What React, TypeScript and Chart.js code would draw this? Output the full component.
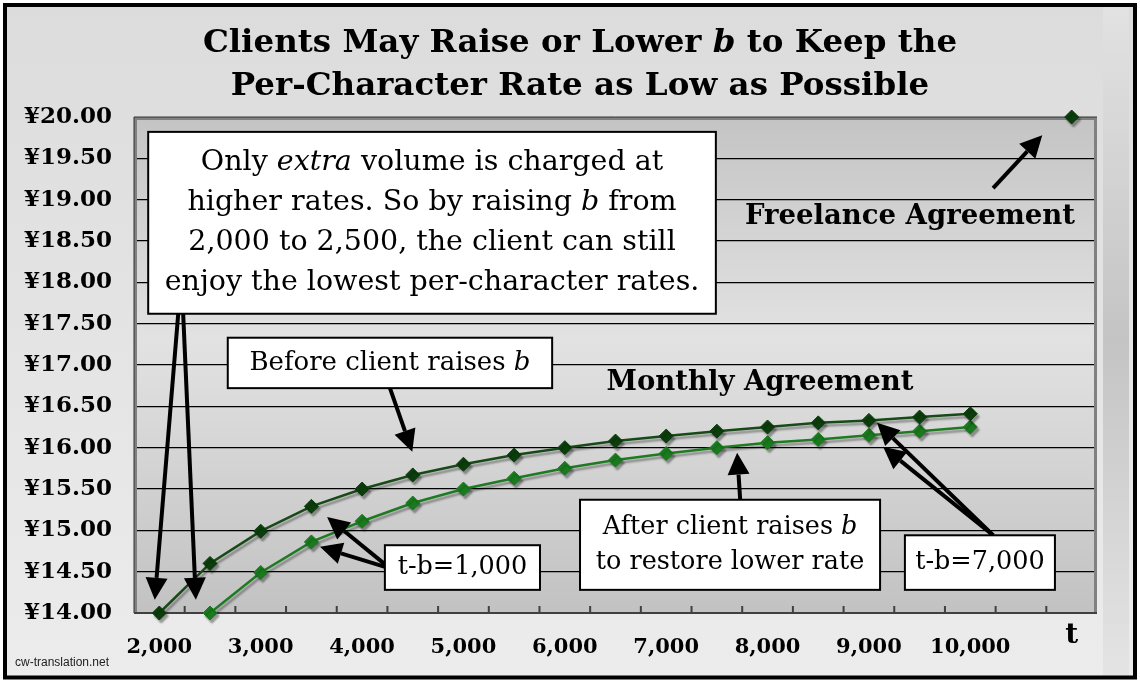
import { useEffect, useRef } from "react";
import { Chart, registerables } from "chart.js";

Chart.register(...registerables);

// volume t (characters), one category every 500
const categories = [
  2000, 2500, 3000, 3500, 4000, 4500, 5000, 5500, 6000, 6500, 7000, 7500, 8000, 8500, 9000, 9500, 10000, 10500, 11000,
];
const xTickLabels = [
  "2,000", "", "3,000", "", "4,000", "", "5,000", "", "6,000", "", "7,000", "", "8,000", "", "9,000", "", "10,000", "", "t",
];

// per-character rate (yen)
const beforeRaise = [
  14.0, 14.6, 14.99, 15.29, 15.5, 15.67, 15.8, 15.91, 16.0, 16.08, 16.14, 16.2, 16.25, 16.3, 16.33, 16.37, 16.41, null, null,
];
const afterRaise = [
  null, 14.0, 14.49, 14.86, 15.11, 15.33, 15.5, 15.63, 15.75, 15.85, 15.93, 16.0, 16.06, 16.1, 16.15, 16.2, 16.25, null, null,
];
const freelance = [
  null, null, null, null, null, null, null, null, null, null, null, null, null, null, null, null, null, null, 20.0,
];

const yMin = 14;
const yMax = 20;
const yStep = 0.5;

const SERIF = '"DejaVu Serif", "Liberation Serif", serif';

type Part = [string, boolean]; // text, italic

// annotation layer, positioned in data space (category index, yen)
const boxes: { x1: number; x2: number; y1: number; y2: number; size: number; lh: number; lines: Part[][] }[] = [
  {
    x1: -0.22, x2: 10.98, y1: 19.82, y2: 17.62, size: 28.5, lh: 40,
    lines: [
      [["Only ", false], ["extra", true], [" volume is charged at", false]],
      [["higher rates. So by raising ", false], ["b", true], [" from", false]],
      [["2,000 to 2,500, the client can still", false]],
      [["enjoy the lowest per-character rates.", false]],
    ],
  },
  {
    x1: 1.35, x2: 7.75, y1: 17.33, y2: 16.72, size: 26, lh: 36,
    lines: [[["Before client raises ", false], ["b", true]]],
  },
  {
    x1: 8.3, x2: 14.22, y1: 15.37, y2: 14.28, size: 25.5, lh: 35,
    lines: [
      [["After client raises ", false], ["b", true]],
      [["to restore lower rate", false]],
    ],
  },
  {
    x1: 4.45, x2: 7.51, y1: 14.82, y2: 14.28, size: 25.5, lh: 36,
    lines: [[["t-b=1,000", false]]],
  },
  {
    x1: 14.71, x2: 17.67, y1: 14.94, y2: 14.28, size: 25.5, lh: 36,
    lines: [[["t-b=7,000", false]]],
  },
];

const arrows: { from: [number, number]; to: [number, number] }[] = [
  { from: [0.41, 17.9], to: [-0.09, 14.16] },
  { from: [0.45, 17.9], to: [0.72, 14.16] },
  { from: [4.55, 16.72], to: [4.99, 15.95] },
  { from: [16.45, 19.14], to: [17.42, 19.78] },
  { from: [11.46, 15.37], to: [11.4, 15.94] },
  { from: [4.55, 14.54], to: [3.31, 15.16] },
  { from: [4.55, 14.54], to: [3.17, 14.8] },
  { from: [16.45, 14.94], to: [14.16, 16.3] },
  { from: [16.45, 14.94], to: [14.28, 16.01] },
];

const plainLabels: { text: string; x: number; y: number }[] = [
  { text: "Monthly Agreement", x: 11.85, y: 16.78 },
  { text: "Freelance Agreement", x: 14.81, y: 18.79 },
];

function drawRich(ctx: CanvasRenderingContext2D, parts: Part[], cx: number, cy: number, size: number, bold: boolean) {
  const font = (it: boolean) => `${it ? "italic " : ""}${bold ? "bold " : ""}${size}px ${SERIF}`;
  const widths = parts.map(([t, it]) => {
    ctx.font = font(it);
    return ctx.measureText(t).width;
  });
  const total = widths.reduce((a, b) => a + b, 0);
  let x = cx - total / 2;
  ctx.textAlign = "left";
  ctx.textBaseline = "middle";
  ctx.fillStyle = "#000";
  parts.forEach(([t, it], i) => {
    ctx.font = font(it);
    ctx.fillText(t, x, cy);
    x += widths[i];
  });
}

function drawArrow(ctx: CanvasRenderingContext2D, x1: number, y1: number, x2: number, y2: number) {
  const a = Math.atan2(y2 - y1, x2 - x1);
  const head = 22;
  const half = 11;
  const bx = x2 - head * Math.cos(a);
  const by = y2 - head * Math.sin(a);
  ctx.strokeStyle = "#000";
  ctx.fillStyle = "#000";
  ctx.lineWidth = 4;
  ctx.beginPath();
  ctx.moveTo(x1, y1);
  ctx.lineTo(bx, by);
  ctx.stroke();
  ctx.beginPath();
  ctx.moveTo(x2, y2);
  ctx.lineTo(bx + half * Math.sin(a), by - half * Math.cos(a));
  ctx.lineTo(bx - half * Math.sin(a), by + half * Math.cos(a));
  ctx.closePath();
  ctx.fill();
}

const decorPlugin = {
  id: "decor",
  beforeDraw(chart: any) {
    const { ctx, width, height, chartArea: ca } = chart;
    ctx.save();
    ctx.fillStyle = "#fff";
    ctx.fillRect(0, 0, width, height);
    const bg = ctx.createLinearGradient(0, 5, 0, height - 5);
    bg.addColorStop(0, "#dcdcdc");
    bg.addColorStop(1, "#ececec");
    ctx.fillStyle = bg;
    ctx.fillRect(5, 5, width - 10, height - 10);
    // shaded strip right of the plot
    const side = ctx.createLinearGradient(0, 5, 0, height - 5);
    side.addColorStop(0, "#e2e2e2");
    side.addColorStop(0.5, "#c4c4c4");
    side.addColorStop(1, "#e4e4e4");
    ctx.fillStyle = side;
    ctx.fillRect(ca.right + 6, 5, width - 11 - ca.right - 6, height - 10);
    // plot background
    const pg = ctx.createLinearGradient(0, ca.top, 0, ca.bottom);
    pg.addColorStop(0, "#c4c4c4");
    pg.addColorStop(0.45, "#e2e2e2");
    pg.addColorStop(1, "#c2c2c2");
    ctx.fillStyle = pg;
    ctx.fillRect(ca.left, ca.top, ca.right - ca.left, ca.bottom - ca.top);
    ctx.restore();
  },
  beforeDatasetsDraw(chart: any) {
    const { ctx, chartArea: ca } = chart;
    const xs = chart.scales.x;
    ctx.save();
    ctx.strokeStyle = "#808080";
    ctx.lineWidth = 3;
    ctx.beginPath();
    ctx.moveTo(ca.left + 1.5, ca.bottom);
    ctx.lineTo(ca.left + 1.5, ca.top + 1.5);
    ctx.lineTo(ca.right - 1.5, ca.top + 1.5);
    ctx.lineTo(ca.right - 1.5, ca.bottom);
    ctx.stroke();
    ctx.strokeStyle = "#333";
    ctx.lineWidth = 1;
    ctx.beginPath();
    ctx.moveTo(ca.left, ca.top);
    ctx.lineTo(ca.right, ca.top);
    ctx.moveTo(ca.left, ca.top);
    ctx.lineTo(ca.left, ca.bottom);
    ctx.stroke();
    // axis line with inside ticks at category boundaries
    ctx.strokeStyle = "#404040";
    ctx.lineWidth = 2;
    ctx.beginPath();
    ctx.moveTo(ca.left, ca.bottom);
    ctx.lineTo(ca.right, ca.bottom);
    for (let i = 0; i < categories.length - 1; i++) {
      const bx = xs.getPixelForValue(i + 0.5);
      ctx.moveTo(bx, ca.bottom);
      ctx.lineTo(bx, ca.bottom - 7);
    }
    ctx.stroke();
    ctx.restore();
  },
  beforeDatasetDraw(chart: any) {
    const ctx = chart.ctx;
    ctx.save();
    ctx.shadowColor = "rgba(0,0,0,0.35)";
    ctx.shadowOffsetX = 2;
    ctx.shadowOffsetY = 3;
    ctx.shadowBlur = 2;
  },
  afterDatasetDraw(chart: any) {
    chart.ctx.restore();
  },
  afterDraw(chart: any) {
    const { ctx, width, height } = chart;
    const xs = chart.scales.x;
    const ys = chart.scales.y;
    const P = (i: number, v: number) => [xs.getPixelForValue(i), ys.getPixelForValue(v)];
    ctx.save();

    // title
    drawRich(ctx, [["Clients May Raise or Lower ", false], ["b", true], [" to Keep the", false]], 580, 44, 32.5, true);
    drawRich(ctx, [["Per-Character Rate as Low as Possible", false]], 580, 87, 32.5, true);

    // x axis name at the last category
    ctx.font = `bold 28px ${SERIF}`;
    ctx.textAlign = "center";
    ctx.textBaseline = "middle";
    ctx.fillStyle = "#000";
    ctx.fillText(xTickLabels[xTickLabels.length - 1], xs.getPixelForValue(categories.length - 1), 636);

    arrows.forEach((a) => {
      const [x1, y1] = P(a.from[0], a.from[1]);
      const [x2, y2] = P(a.to[0], a.to[1]);
      drawArrow(ctx, x1, y1, x2, y2);
    });

    boxes.forEach((b) => {
      const [x1, y1] = P(b.x1, b.y1);
      const [x2, y2] = P(b.x2, b.y2);
      ctx.fillStyle = "#fff";
      ctx.fillRect(x1, y1, x2 - x1, y2 - y1);
      ctx.strokeStyle = "#000";
      ctx.lineWidth = 2;
      ctx.strokeRect(x1, y1, x2 - x1, y2 - y1);
      const cx = (x1 + x2) / 2;
      const cy = (y1 + y2) / 2;
      const n = b.lines.length;
      b.lines.forEach((ln, k) => {
        drawRich(ctx, ln, cx, cy + (k - (n - 1) / 2) * b.lh, b.size, false);
      });
    });

    plainLabels.forEach((l) => {
      const [x, y] = P(l.x, l.y);
      drawRich(ctx, [[l.text, false]], x, y, 27.5, true);
    });

    // watermark
    ctx.font = '12px "Liberation Sans", Arial, sans-serif';
    ctx.textAlign = "left";
    ctx.textBaseline = "middle";
    ctx.fillStyle = "#222";
    ctx.fillText("cw-translation.net", 15, 663);

    // frame
    ctx.strokeStyle = "#000";
    ctx.lineWidth = 4;
    ctx.strokeRect(5, 5, width - 10, height - 8.5);
    ctx.restore();
  },
};

export default function App() {
  const canvasRef = useRef<HTMLCanvasElement>(null);
  const chartRef = useRef<Chart | null>(null);

  useEffect(() => {
    document.body.style.margin = "0";
    if (!canvasRef.current) return;
    if (chartRef.current) chartRef.current.destroy();

    const diamond = (color: string) => ({
      pointStyle: "rectRot" as const,
      pointRadius: 7,
      pointHoverRadius: 7,
      pointBackgroundColor: color,
      pointBorderColor: color,
      pointBorderWidth: 1,
    });

    chartRef.current = new Chart(canvasRef.current, {
      type: "line",
      data: {
        labels: categories,
        datasets: [
          {
            label: "Before client raises b",
            data: beforeRaise,
            borderColor: "#174a17",
            borderWidth: 2.5,
            tension: 0,
            clip: false,
            ...diamond("#0c3d0c"),
          },
          {
            label: "After client raises b",
            data: afterRaise,
            borderColor: "#1f7a23",
            borderWidth: 2.5,
            tension: 0,
            clip: false,
            ...diamond("#1a7a1e"),
          },
          {
            label: "Freelance Agreement",
            data: freelance,
            borderColor: "#0c3d0c",
            borderWidth: 2.5,
            clip: false,
            ...diamond("#0c3d0c"),
          },
        ],
      },
      options: {
        responsive: false,
        animation: false,
        events: [],
        layout: { padding: { top: 117, right: 43, bottom: 0, left: 0 } },
        plugins: {
          legend: { display: false },
          title: { display: false },
          tooltip: { enabled: false },
        },
        scales: {
          x: {
            type: "category",
            offset: true,
            grid: { display: false, drawTicks: false },
            border: { display: false },
            afterFit: (s: any) => {
              s.height = 68;
            },
            ticks: {
              autoSkip: false,
              maxRotation: 0,
              padding: 22,
              color: "#000",
              font: { family: SERIF, weight: "bold", size: 21 },
              callback: (_v: any, i: number) => (i === xTickLabels.length - 1 ? "" : xTickLabels[i]),
            },
          },
          y: {
            min: yMin,
            max: yMax,
            grid: {
              drawTicks: false,
              color: (c: any) => (c.tick && (c.tick.value === yMax || c.tick.value === yMin) ? "rgba(0,0,0,0)" : "#000"),
              lineWidth: 1.2,
            },
            border: { display: false },
            afterFit: (s: any) => {
              s.width = 134;
            },
            ticks: {
              stepSize: yStep,
              padding: 22,
              color: "#000",
              font: { family: SERIF, weight: "bold", size: 23 },
              callback: (v: any) => `¥${Number(v).toFixed(2)}`,
            },
          },
        },
      } as any,
      plugins: [decorPlugin],
    });

    return () => {
      if (chartRef.current) {
        chartRef.current.destroy();
        chartRef.current = null;
      }
    };
  }, []);

  return (
    <div style={{ width: 1140, height: 681 }}>
      <canvas ref={canvasRef} width={1140} height={681} style={{ width: 1140, height: 681 }} />
    </div>
  );
}
